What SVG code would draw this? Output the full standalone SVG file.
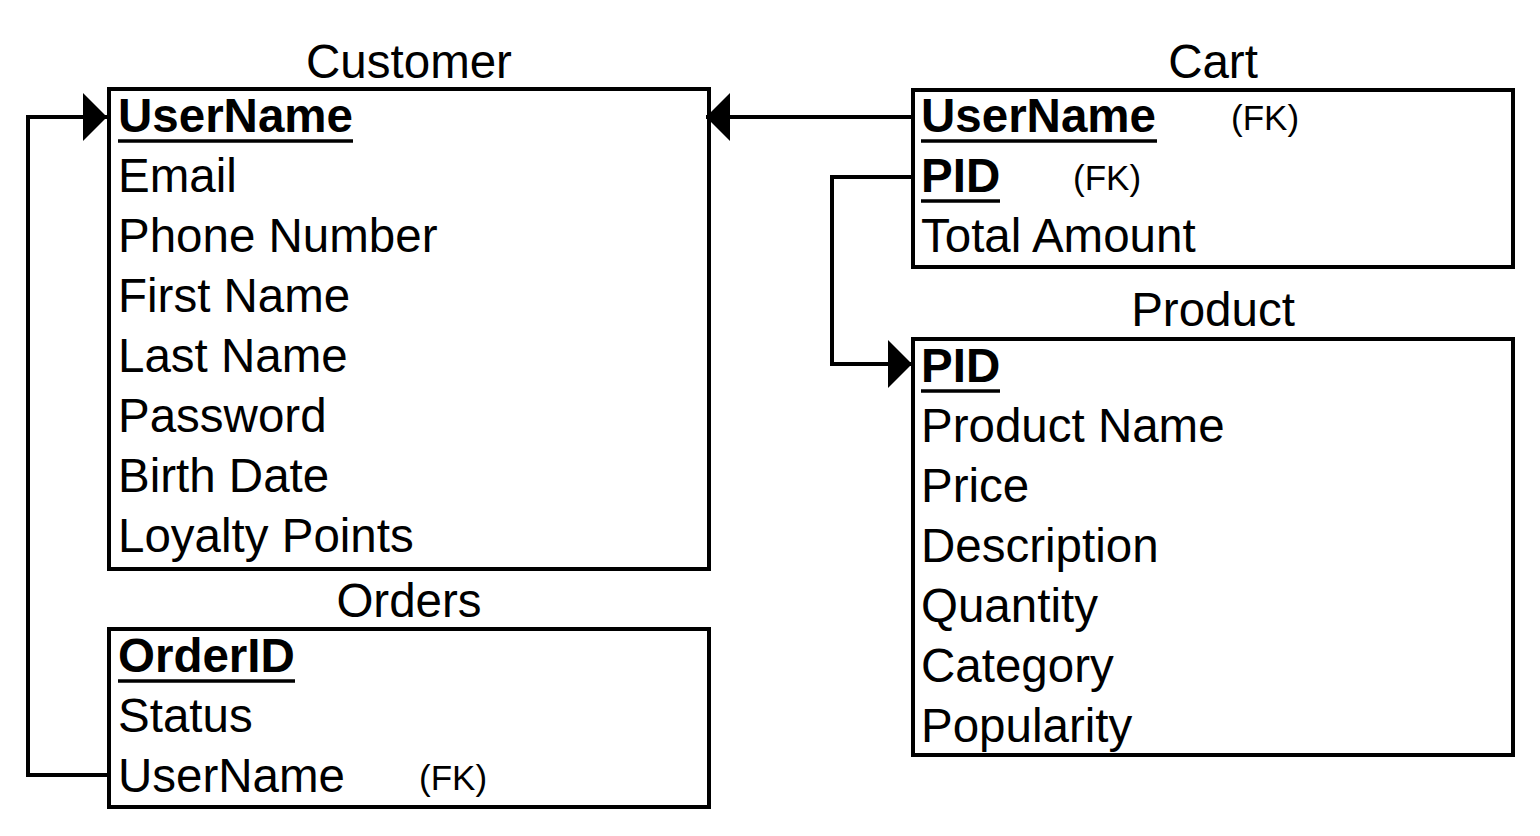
<svg xmlns="http://www.w3.org/2000/svg" width="1540" height="836" viewBox="0 0 1540 836">
<style>
text{font-family:"Liberation Sans",Arial,sans-serif;font-size:47.5px;fill:#000}
.b{font-weight:bold}
.fk{font-size:35px}
.t{text-anchor:middle}
.box{fill:#fff;stroke:#000;stroke-width:4}
.ul{stroke:#000;stroke-width:3.5}
.c{fill:none;stroke:#000;stroke-width:4}
</style>
<defs>
<marker id="arr" viewBox="0 0 24 48" refX="24" refY="24" markerWidth="24" markerHeight="48" markerUnits="userSpaceOnUse" orient="auto">
<path d="M0,0 L24,24 L0,48 Z" fill="#000"/>
</marker>
</defs>
<rect width="1540" height="836" fill="#fff"/>
<g id="customer">
<text class="t" x="409" y="78">Customer</text>
<rect class="box" x="109" y="89" width="600" height="480"/>
<text class="b" x="118" y="132">UserName</text>
<line class="ul" x1="118" y1="141" x2="353" y2="141"/>
<text x="118" y="192">Email</text>
<text x="118" y="252">Phone Number</text>
<text x="118" y="312">First Name</text>
<text x="118" y="372">Last Name</text>
<text x="118" y="432">Password</text>
<text x="118" y="492">Birth Date</text>
<text x="118" y="552">Loyalty Points</text>
</g>
<g id="orders">
<text class="t" x="409" y="617">Orders</text>
<rect class="box" x="109" y="629" width="600" height="178"/>
<text class="b" x="118" y="672">OrderID</text>
<line class="ul" x1="118" y1="681" x2="295" y2="681"/>
<text x="118" y="732">Status</text>
<text x="118" y="792">UserName</text>
<text class="fk" x="419" y="790">(FK)</text>
</g>
<g id="cart">
<text class="t" x="1213" y="78">Cart</text>
<rect class="box" x="913" y="90" width="600" height="177"/>
<text class="b" x="921" y="132">UserName</text>
<line class="ul" x1="921" y1="141" x2="1157" y2="141"/>
<text class="fk" x="1231" y="130">(FK)</text>
<text class="b" x="921" y="192">PID</text>
<line class="ul" x1="921" y1="201" x2="1000" y2="201"/>
<text class="fk" x="1073" y="190">(FK)</text>
<text x="921" y="252">Total Amount</text>
</g>
<g id="product">
<text class="t" x="1213" y="326">Product</text>
<rect class="box" x="913" y="339" width="600" height="416"/>
<text class="b" x="921" y="382">PID</text>
<line class="ul" x1="921" y1="391" x2="1000" y2="391"/>
<text x="921" y="442">Product Name</text>
<text x="921" y="502">Price</text>
<text x="921" y="562">Description</text>
<text x="921" y="622">Quantity</text>
<text x="921" y="682">Category</text>
<text x="921" y="742">Popularity</text>
</g>
<g id="connectors">
<polyline class="c" points="109,775 28,775 28,117 107,117" marker-end="url(#arr)"/>
<polyline class="c" points="913,117 706,117" marker-end="url(#arr)"/>
<polyline class="c" points="913,177 832,177 832,364 912,364" marker-end="url(#arr)"/>
</g>
</svg>
